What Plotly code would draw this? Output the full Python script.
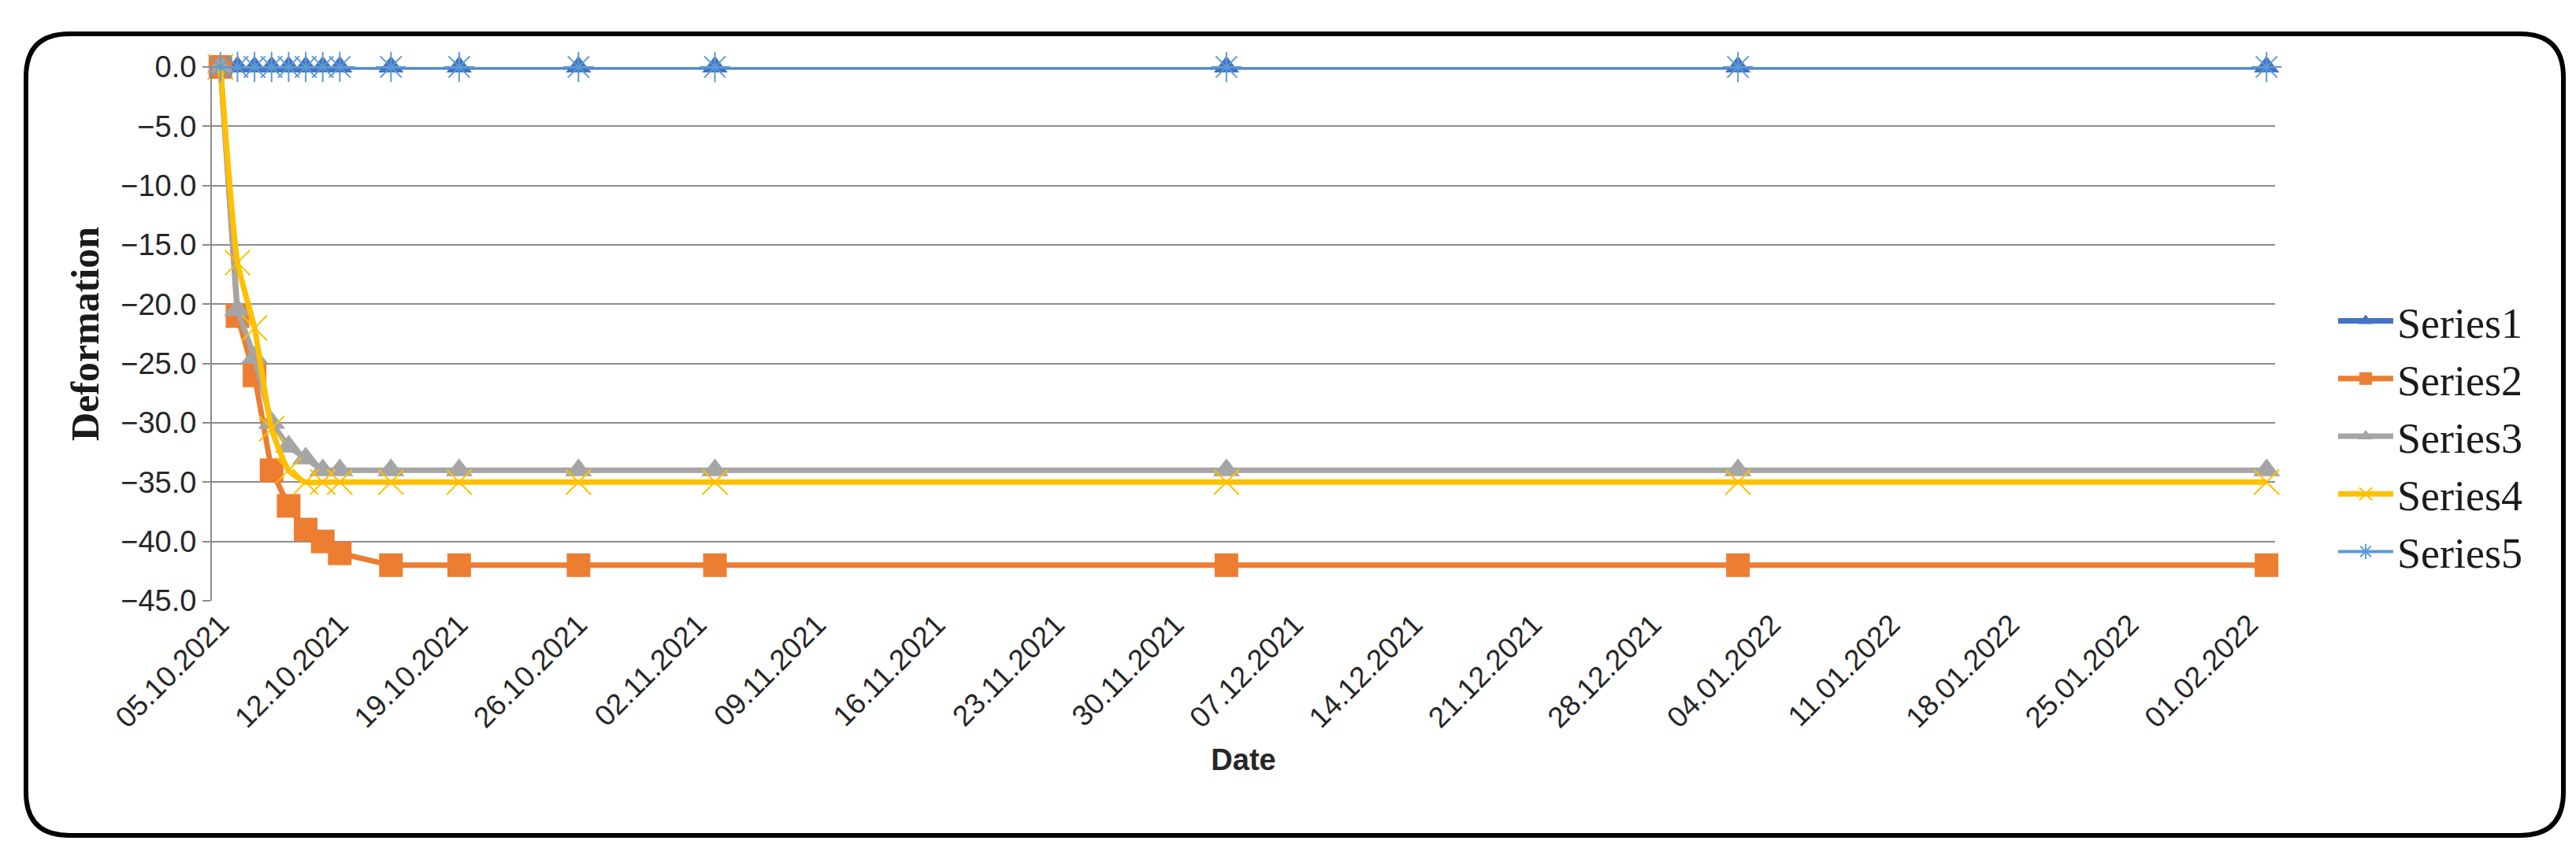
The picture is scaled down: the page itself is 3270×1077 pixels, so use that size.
import plotly.graph_objects as go

dates = ["2021-10-05", "2021-10-06", "2021-10-07", "2021-10-08", "2021-10-09",
         "2021-10-10", "2021-10-11", "2021-10-12", "2021-10-15", "2021-10-19",
         "2021-10-26", "2021-11-03", "2021-12-03", "2022-01-02", "2022-02-02"]
series1 = [0, 0, 0, 0, 0, 0, 0, 0, 0, 0, 0, 0, 0, 0, 0]
series2 = [0, -21, -26, -34, -37, -39, -40, -41, -42, -42, -42, -42, -42, -42, -42]
series3 = [0, -20.5, -24.5, -30, -32, -33, -34, -34, -34, -34, -34, -34, -34, -34, -34]
series4 = [0, -16.5, -22, -30.5, -34, -35, -35, -35, -35, -35, -35, -35, -35, -35, -35]
series5 = [0, 0, 0, 0, 0, 0, 0, 0, 0, 0, 0, 0, 0, 0, 0]
names = ["Series1", "Series2", "Series3", "Series4", "Series5"]

W, H = 3270, 1077
L, R, T, B = 261, 390, 77, 322
pw, ph = W - L - R, H - T - B

fig = go.Figure()
styles = [
    dict(color="#4472C4", symbol="triangle-up", size=28, width=7, shape="linear"),
    dict(color="#ED7D31", symbol="square", size=30, width=7, shape="linear"),
    dict(color="#A5A5A5", symbol="triangle-up", size=30, width=7, shape="linear"),
    dict(color="#FFC000", symbol="x-thin", size=32, width=7, shape="spline"),
    dict(color="#5B9BD5", symbol="asterisk", size=32, width=4, shape="linear"),
]
for name, vals, st in zip(names, [series1, series2, series3, series4, series5], styles):
    thin = st["symbol"] in ("x-thin", "asterisk")
    fig.add_trace(go.Scatter(
        x=dates, y=vals, name=name, mode="lines+markers",
        line=dict(color=st["color"], width=st["width"], shape=st["shape"], smoothing=0.5),
        marker=dict(symbol=st["symbol"], size=st["size"], color=st["color"],
                    line=dict(color=st["color"], width=2 if thin else 0)),
        cliponaxis=False,
    ))

def px2x(p): return (p - L) / pw
def px2y(p): return (H - B - p) / ph
x0, x1, y0, y1, r = 25, 3246, 35, 1053, 55
path = (f"M {px2x(x0+r)},{px2y(y0)} L {px2x(x1-r)},{px2y(y0)} "
        f"Q {px2x(x1)},{px2y(y0)} {px2x(x1)},{px2y(y0+r)} "
        f"L {px2x(x1)},{px2y(y1-r)} Q {px2x(x1)},{px2y(y1)} {px2x(x1-r)},{px2y(y1)} "
        f"L {px2x(x0+r)},{px2y(y1)} Q {px2x(x0)},{px2y(y1)} {px2x(x0)},{px2y(y1-r)} "
        f"L {px2x(x0)},{px2y(y0+r)} Q {px2x(x0)},{px2y(y0)} {px2x(x0+r)},{px2y(y0)} Z")
fig.add_shape(type="path", path=path, xref="paper", yref="paper",
              line=dict(color="black", width=6), layer="below")

fig.update_layout(
    width=W, height=H, margin=dict(l=L, r=R, t=T, b=B),
    paper_bgcolor="white", plot_bgcolor="white",
    showlegend=True,
    legend=dict(x=px2x(2955), y=px2y(546), xanchor="left", yanchor="middle",
                font=dict(family="Liberation Serif", size=54, color="#1a1a1a"),
                itemwidth=70, tracegroupgap=0),
    xaxis=dict(
        type="date", range=["2021-10-04 12:00", "2022-02-02 12:00"],
        tick0="2021-10-05", dtick=7 * 86400000, tickformat="%d.%m.%Y",
        tickangle=-45, showgrid=False, showline=False, zeroline=False,
        tickfont=dict(family="Liberation Sans", size=37, color="#262626"),
        title=dict(text="<b>Date</b>", font=dict(family="Liberation Sans", size=38, color="#262626"), standoff=20),
    ),
    yaxis=dict(
        range=[-45, 0], dtick=5, tickformat=".1f",
        showgrid=True, gridcolor="#8C8C8C", gridwidth=2,
        showline=True, linecolor="#8C8C8C", linewidth=2,
        ticks="outside", ticklen=10, tickcolor="#8C8C8C", tickwidth=2,
        zeroline=False,
        tickfont=dict(family="Liberation Sans", size=38, color="#262626"),
        title=dict(text="<b>Deformation</b>", font=dict(family="Liberation Serif", size=50, color="#1a1a1a"), standoff=12),
    ),
)
fig.write_html("out.html")
